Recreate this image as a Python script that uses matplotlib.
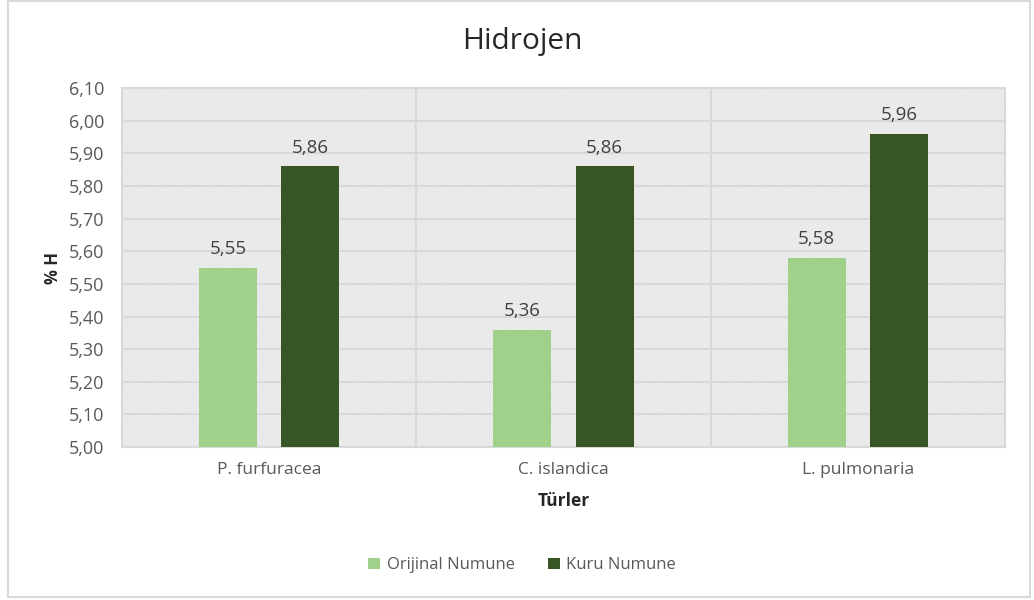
import matplotlib.pyplot as plt
from matplotlib.patches import Rectangle
from matplotlib.ticker import FuncFormatter
import numpy as np

plt.rcParams['font.family'] = ['Open Sans', 'DejaVu Sans']
plt.rcParams['hatch.linewidth'] = 0.5

# Dados
turler = ['P. furfuracea', 'C. islandica', 'L. pulmonaria']
orijinal = [5.55, 5.36, 5.58]
kuru = [5.86, 5.86, 5.96]
yticks = np.round(np.arange(5.0, 6.101, 0.1), 2)

fig = plt.figure(figsize=(10.34, 6), dpi=100)
ax = fig.add_axes([0.118, 0.255, 0.854, 0.598])

# borda externa do gráfico
fig.patches.append(Rectangle((0.008, 0.005), 0.988, 0.993, transform=fig.transFigure,
                             fill=False, edgecolor='#d9d9d9', lw=1.5))

# fundo hachurado
ax.patch.set_visible(False)
ax.add_patch(Rectangle((0, 0), 1, 1, transform=ax.transAxes, facecolor='white',
                       edgecolor='#d8d8d8', hatch='\\' * 18, lw=0, zorder=0))

x = np.arange(len(turler))
w = 0.197
b1 = ax.bar(x - 0.14, np.array(orijinal) - 5.0, w, bottom=5.0, color='#9fd18b', label='Orijinal Numune', zorder=3)
b2 = ax.bar(x + 0.14, np.array(kuru) - 5.0, w, bottom=5.0, color='#375623', label='Kuru Numune', zorder=3)

for xs, vals in [(x - 0.14, orijinal), (x + 0.14, kuru)]:
    for xi, v in zip(xs, vals):
        ax.annotate(f'{v:.2f}'.replace('.', ','), (xi, v), textcoords='offset points',
                    xytext=(0, 7), ha='center', va='bottom', fontsize=13.5, color='#404040')

ax.set_xlim(-0.5, 2.5)
ax.set_ylim(5.0, 6.1)
ax.set_yticks(yticks)
ax.yaxis.set_major_formatter(FuncFormatter(lambda v, p: f'{v:.2f}'.replace('.', ',')))
ax.set_xticks(x)
ax.set_xticklabels(turler)
ax.tick_params(length=0, labelcolor='#595959')
ax.tick_params(axis='y', labelsize=13, pad=13)
ax.tick_params(axis='x', labelsize=12.5, pad=11)

ax.grid(axis='y', color='#d9d9d9', lw=1.5, zorder=1)
for xv in [0.5, 1.5]:
    ax.axvline(xv, color='#d9d9d9', lw=1.5, zorder=1)
for s in ax.spines.values():
    s.set_color('#d9d9d9')
    s.set_linewidth(1.5)

ax.set_xlabel('Türler', fontsize=12.5, fontweight='bold', color='#262626', labelpad=10)
ax.set_ylabel('% H', fontsize=12, fontweight='bold', color='#262626', labelpad=5)
fig.text(0.505, 0.93, 'Hidrojen', fontsize=21.5, color='#262626', ha='center', va='center')

fig.legend(handles=[b1, b2], loc='center', bbox_to_anchor=(0.505, 0.058), ncol=2, frameon=False,
           fontsize=12, labelcolor='#595959', handlelength=0.7, handleheight=0.7,
           handletextpad=0.4, columnspacing=2.0)

fig.savefig('out.png', dpi=100)
